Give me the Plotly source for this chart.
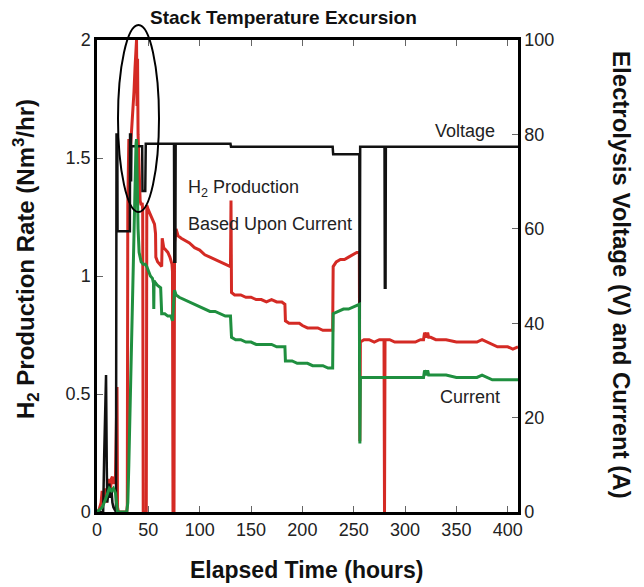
import plotly.graph_objects as go

# ---------------- data ----------------
# H2 production rate based upon current (Nm3/hr), left axis
red_t = [0, 2, 4, 5, 6, 7, 8, 9, 10, 11, 12, 13, 14, 15, 16, 17, 18, 19, 19.5, 20, 21, 29, 29.5,
         30, 30.5, 31, 32, 33, 34, 35, 36, 37, 38, 38.5, 39, 39.5, 40, 41, 42, 43, 44, 44.5, 45, 48,
         48.5, 50, 52, 54, 56, 57, 57.3, 59, 61, 63, 63.5, 65, 67, 69, 71, 73, 73.5, 74, 75, 75.5,
         77, 79, 82, 86, 90, 95, 100, 105, 110, 115, 120, 125, 130, 130.5, 131, 134, 140, 145, 150,
         155, 160, 165, 170, 175, 180, 183, 183.5, 187, 192, 197, 200, 205, 210, 215, 220, 225,
         229.5, 230, 233, 237, 241, 245, 249, 253, 255.5, 256, 256.5, 260, 265, 270, 275, 279.5,
         280, 280.5, 285, 290, 295, 300, 305, 310, 315, 318, 319, 321, 322, 323, 325, 330, 340,
         350, 360, 370, 375, 380, 385, 390, 395, 400, 405, 410]
red_v = [0, 0.01, 0.04, 0.09, 0.03, 0.06, 0.1, 0.04, 0.11, 0.14, 0.12, 0.09, 0.14, 0.15, 0.12,
         0.13, 0.15, 0.45, 0.53, 0.02, 0, 0, 0.03,
         1.3, 1.5, 1.58, 1.5, 1.56, 1.63, 1.72, 1.78, 1.88, 1.96, 2.0, 1.72, 1.92, 1.6, 1.4, 1.32,
         1.3, 1.31, 1.28, 0, 0,
         1.3, 1.28, 1.26, 1.24, 1.22, 1.18, 1.08, 1.06, 1.05, 1.04, 1.16, 1.12, 1.11, 1.1, 1.08,
         1.05, 1.02, 0, 0, 1.14,
         1.2, 1.17, 1.16, 1.15, 1.14, 1.12, 1.11, 1.09, 1.08, 1.07, 1.06, 1.05, 1.04, 1.32, 0.93,
         0.92, 0.92, 0.91, 0.91,
         0.9, 0.9, 0.89, 0.9, 0.89, 0.89, 0.88, 0.81, 0.8, 0.8, 0.8, 0.79, 0.78, 0.78, 0.78, 0.77,
         0.77,
         0.77, 1.04, 1.06, 1.07, 1.07, 1.08, 1.09, 1.1, 1.1, 0.3, 0.72, 0.73, 0.73, 0.72, 0.73,
         0.73,
         0, 0.73, 0.73, 0.72, 0.72, 0.72, 0.72, 0.72, 0.73, 0.73, 0.76, 0.74, 0.76, 0.74, 0.74,
         0.73, 0.73,
         0.72, 0.72, 0.72, 0.73, 0.72, 0.71, 0.70, 0.70, 0.70, 0.69, 0.70]

# Current (A), right axis
grn_t = [0, 5, 8, 10, 12, 14, 16, 18, 19, 20, 29, 30, 31, 33, 35, 36, 37, 38, 38.5, 39, 40, 41,
         43, 45, 47, 48.5, 50, 52, 54, 55, 55.3, 55.6, 57, 59, 62, 63, 66, 69, 72, 73.5, 75.5, 77,
         80, 85, 90, 95, 100, 105, 110, 115, 120, 125, 130, 131, 135, 140, 145, 150, 155, 160,
         165, 170, 175, 180, 183, 183.5, 190, 195, 200, 205, 210, 215, 220, 225, 229.5, 230, 235,
         240, 245, 250, 255, 255.5, 256, 256.5, 260, 270, 280, 290, 300, 310, 318, 319, 321, 322,
         323, 325, 330, 340, 350, 360, 370, 375, 380, 385, 390, 400, 410]
grn_v = [0, 1, 2.5, 4, 5, 4.5, 5, 4, 2.5, 0, 0, 2, 10, 30, 50, 62, 72, 78, 79, 72, 60, 55,
         53, 52.5, 52.5, 52, 51, 50, 49.5, 48.5, 43, 49, 48.5, 48, 47.5, 42, 42, 41.5, 41.5, 40.5,
         47, 46,
         45.5, 45, 44.5, 44, 43.5, 43, 42.5, 42.5, 42, 41.5, 41.5, 37, 36.5, 36.5, 36, 36, 35.5,
         35.5,
         35.5, 35.5, 35, 35, 35, 32, 32, 31.5, 31.5, 31.5, 31, 31, 31, 30.5, 30.5, 42, 42.5,
         43, 43, 43.5, 44, 44, 14.5, 28.5, 28.5, 28.5, 28.5, 28.5, 28.5, 28.5, 28.5, 30, 29, 30,
         29, 29, 29, 29, 28.5, 28.5, 28.5, 29, 28.5, 28, 28, 28, 28]

# Electrolysis voltage (V), right axis
vlt_t = [0, 6, 7, 8, 8.8, 9.5, 10, 11, 12, 13, 14, 15, 16, 18.5, 19, 19.8, 20, 32, 32.2, 33,
         33.2, 33.5, 44, 44.3, 47, 47.5, 75, 75.3, 76.3, 76.6, 130, 130.5, 229.5, 230, 255.5,
         255.8, 256.3, 280, 280.3, 281, 281.3, 410]
vlt_v = [0, 0, 12, 24, 29, 10, 2, 4, 6, 3, 5, 2, 1, 0, 80, 80, 59.5, 59.5, 80, 80,
         70, 77.5, 77.5, 68, 68, 78, 78, 53, 53, 78, 78, 77.4, 77.4, 75.8, 75.8,
         30, 77.4, 77.4, 47.5, 47.5, 77.4, 77.4]

x_ticks = [0, 50, 100, 150, 200, 250, 300, 350, 400]
y_ticks = [0, 0.5, 1, 1.5, 2]
y_tick_text = ["0", "0.5", "1", "1.5", "2"]
y2_ticks = [0, 20, 40, 60, 80, 100]

# ---------------- figure ----------------
TICKFONT = dict(family="Liberation Sans Narrow, Liberation Sans, Arial", size=18, color="#222")
TXT = dict(family="Liberation Sans, Arial", size=18, color="#222")
BOLD = dict(family="Liberation Sans, Arial", size=23, color="#111", weight="bold")

fig = go.Figure()
fig.add_trace(go.Scatter(x=vlt_t, y=vlt_v, yaxis="y2", mode="lines",
                         line=dict(color="#111111", width=2.5), name="Voltage"))
fig.add_trace(go.Scatter(x=red_t, y=red_v, yaxis="y", mode="lines",
                         line=dict(color="#d42a24", width=3), name="H2 Production"))
fig.add_trace(go.Scatter(x=grn_t, y=grn_v, yaxis="y2", mode="lines",
                         line=dict(color="#1f8f3f", width=3), name="Current"))

# the page has an 8px body margin, so the figure is drawn 8px in from the window edge
OFF = 8
W, H = 644 - OFF, 587 - OFF
L, T = 97 - OFF, 40 - OFF
pw, ph = 421, 472
R, B = W - L - pw, H - T - ph


def px(sx):  # screen x -> paper x
    return (sx - OFF - L) / pw


def py(sy):  # screen y -> paper y
    return (T + ph - (sy - OFF)) / ph


fig.update_layout(
    width=W, height=H,
    margin=dict(l=L, r=R, t=T, b=B),
    paper_bgcolor="white", plot_bgcolor="white",
    showlegend=False,
    xaxis=dict(range=[0, 410], tickvals=x_ticks, ticks="inside", ticklen=6, tickwidth=1,
               tickcolor="#666", showline=True, linecolor="black", linewidth=2.5,
               mirror="ticks", showgrid=False, zeroline=False, tickfont=TICKFONT),
    yaxis=dict(range=[0, 2], tickvals=y_ticks, ticktext=y_tick_text, ticks="inside",
               ticklen=6, tickwidth=1, tickcolor="#666", showline=True, linecolor="black",
               linewidth=2.5, mirror=True, showgrid=False, zeroline=False, tickfont=TICKFONT),
    yaxis2=dict(range=[0, 100], tickvals=y2_ticks, overlaying="y", side="right",
                ticks="inside", ticklen=6, tickwidth=1, tickcolor="#666", showline=True,
                linecolor="black", linewidth=2.5, showgrid=False, zeroline=False,
                tickfont=TICKFONT),
    shapes=[dict(type="circle", xref="paper", yref="paper",
                 x0=px(118), x1=px(159), y0=py(212), y1=py(25),
                 line=dict(color="black", width=2))],
)

ann = [
    dict(text="Stack Temperature Excursion", x=px(283), y=py(17), font=dict(BOLD, size=19)),
    dict(text="Elapsed Time (hours)", x=px(306), y=py(570), font=BOLD),
    dict(text="H<sub>2</sub> Production Rate (Nm<sup>3</sup>/hr)", x=px(26), y=py(259),
         textangle=-90, font=dict(BOLD, size=24)),
    dict(text="Electrolysis Voltage (V) and Current (A)", x=px(622), y=py(275),
         textangle=90, font=dict(BOLD, size=24)),
    dict(text="Voltage", x=px(465), y=py(131), font=TXT),
    dict(text="H<sub>2</sub> Production", x=px(186), y=py(188), xanchor="left", font=TXT),
    dict(text="Based Upon Current", x=px(186), y=py(224), xanchor="left", font=TXT),
    dict(text="Current", x=px(470), y=py(397), font=TXT),
]
for a in ann:
    a.setdefault("xanchor", "center")
    fig.add_annotation(xref="paper", yref="paper", showarrow=False, yanchor="middle", **a)

fig.write_html("out.html")
